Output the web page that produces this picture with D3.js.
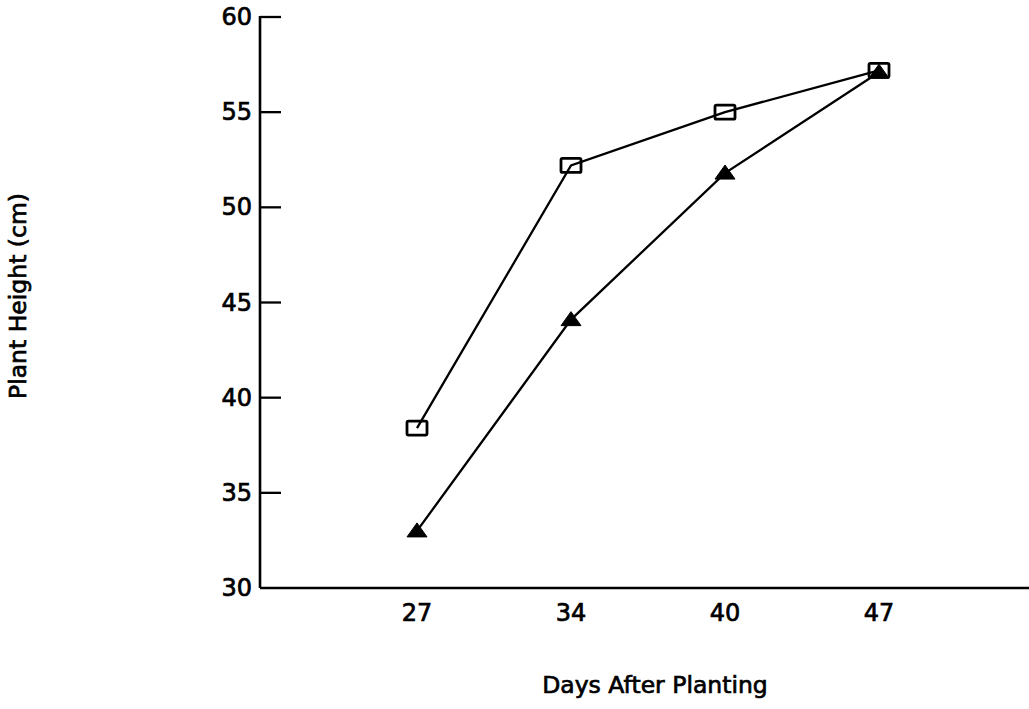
<!DOCTYPE html>
<html>
<head>
<meta charset="utf-8">
<script src="https://cdn.jsdelivr.net/npm/d3@7"></script>
<style>
  html, body { margin: 0; padding: 0; background: #fff; }
  svg { display: block; }
  text { font-family: "DejaVu Sans", sans-serif; fill: #000; stroke: #000; stroke-width: 0.7px; }
</style>
</head>
<body>
<svg id="chart" width="1029" height="709"></svg>
<script>
// Days after planting (categories on the x axis)
const days = ["27", "34", "40", "47"];
// Plant height (cm), open-square series
const seriesSquare = [38.4, 52.2, 55.0, 57.2];
// Plant height (cm), filled-triangle series
const seriesTriangle = [33.0, 44.1, 51.8, 57.1];
// Y axis ticks
const yTicks = [30, 35, 40, 45, 50, 55, 60];

const svg = d3.select("#chart");
const W = 1029, H = 709;
const plotLeft = 260, plotBottom = 588, plotTop = 17;

const x = d3.scalePoint().domain(days).range([263, 1033]).padding(1);
const y = d3.scaleLinear().domain([30, 60]).range([plotBottom, plotTop]);

// Axis lines
svg.append("line")
  .attr("x1", plotLeft).attr("x2", W)
  .attr("y1", plotBottom).attr("y2", plotBottom)
  .attr("stroke", "#000").attr("stroke-width", 2.6);
svg.append("line")
  .attr("x1", plotLeft).attr("x2", plotLeft)
  .attr("y1", plotTop - 1).attr("y2", plotBottom)
  .attr("stroke", "#000").attr("stroke-width", 2.6);

// Y ticks (inward) and labels
const yg = svg.append("g");
yg.selectAll("line.tick").data(yTicks.filter(t => t > 30)).join("line")
  .attr("class", "tick")
  .attr("x1", plotLeft).attr("x2", plotLeft + 21)
  .attr("y1", d => y(d)).attr("y2", d => y(d))
  .attr("stroke", "#000").attr("stroke-width", 2.3);
yg.selectAll("text").data(yTicks).join("text")
  .attr("x", plotLeft - 8).attr("y", d => y(d))
  .attr("text-anchor", "end").attr("dominant-baseline", "central")
  .attr("font-size", 24)
  .text(d => d);

// X tick labels
svg.append("g").selectAll("text").data(days).join("text")
  .attr("x", d => x(d)).attr("y", 613)
  .attr("text-anchor", "middle").attr("dominant-baseline", "central")
  .attr("font-size", 24)
  .text(d => d);

// Axis titles
svg.append("text")
  .attr("x", 655).attr("y", 693)
  .attr("text-anchor", "middle")
  .attr("font-size", 23.5)
  .text("Days After Planting");
svg.append("text")
  .attr("transform", "translate(26,296) rotate(-90)")
  .attr("text-anchor", "middle")
  .attr("font-size", 23.5)
  .text("Plant Height (cm)");

const line = d3.line().x((d, i) => x(days[i])).y(d => y(d));

// Square series
svg.append("path").datum(seriesSquare)
  .attr("d", line).attr("fill", "none")
  .attr("stroke", "#000").attr("stroke-width", 2.3);
svg.append("g").selectAll("rect").data(seriesSquare).join("rect")
  .attr("x", (d, i) => x(days[i]) - 10)
  .attr("y", d => y(d) - 7)
  .attr("width", 20).attr("height", 14)
  .attr("rx", 1.5)
  .attr("fill", "none").attr("stroke", "#000").attr("stroke-width", 2.8);

// Triangle series
svg.append("path").datum(seriesTriangle)
  .attr("d", line).attr("fill", "none")
  .attr("stroke", "#000").attr("stroke-width", 2.3);
svg.append("g").selectAll("path.tri").data(seriesTriangle).join("path")
  .attr("class", "tri")
  .attr("d", (d, i) => {
    const cx = x(days[i]), cy = y(d);
    return `M${cx},${cy - 8} L${cx + 10},${cy + 6} L${cx - 10},${cy + 6} Z`;
  })
  .attr("fill", "#000").attr("stroke", "#000").attr("stroke-width", 1);
</script>
</body>
</html>
